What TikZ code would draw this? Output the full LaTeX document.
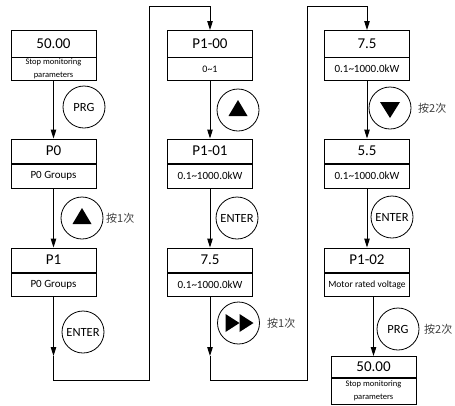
\documentclass[tikz,border=0pt]{standalone}
\usepackage{fontspec}
\setmainfont{Carlito}
\newfontfamily\cjk{Noto Sans CJK SC}
\usetikzlibrary{arrows.meta,calc}
\newcommand\mybox[7]{%
  \node[topbox, minimum height=#4, anchor=north] (#1) at (#2,#3) {#6};
  \node[subbox, minimum height=#5, anchor=north] (#1s) at (#1.south) {#7};}
\begin{document}
\begin{tikzpicture}[x=1pt,y=-1pt,
  topbox/.style={draw, line width=0.8pt, minimum width=85pt, inner sep=0pt, font=\fontsize{15}{17}\selectfont},
  subbox/.style={draw, line width=0.8pt, minimum width=85pt, inner sep=0pt, align=center, font=\fontsize{11}{13}\selectfont},
  key/.style={draw, circle, line width=0.8pt, minimum size=42pt, inner sep=0pt, font=\fontsize{12.5}{14}\selectfont},
  note/.style={anchor=west, inner sep=0pt, text=black!75, font=\cjk\fontsize{11}{13}\selectfont},
  arr/.style={line width=1pt, -{Triangle[length=9pt,width=5.5pt]}}
]
\useasboundingbox (0,0) rectangle (455,405);

% column 1
\mybox{b1}{53.5}{30}{26.5pt}{22.5pt}{50.00}{\fontsize{8.5}{10}\selectfont Stop monitoring\\\fontsize{8.5}{10}\selectfont parameters}
\mybox{b2}{53.5}{138.5}{24.5pt}{24pt}{P0}{P0 Groups}
\mybox{b3}{53.5}{247.5}{24.5pt}{23.5pt}{P1}{P0 Groups}
% column 2
\mybox{b4}{210}{30}{26.5pt}{22.5pt}{P1-00}{\fontsize{10}{12}\selectfont 0\textasciitilde1}
\mybox{b5}{210}{138.5}{24.5pt}{24pt}{P1-01}{0.1\textasciitilde1000.0kW}
\mybox{b6}{210}{247.5}{24.5pt}{23.5pt}{7.5}{0.1\textasciitilde1000.0kW}
% column 3
\mybox{b7}{367}{30}{26.5pt}{22.5pt}{7.5}{0.1\textasciitilde1000.0kW}
\mybox{b8}{367}{138.5}{24.5pt}{24pt}{5.5}{0.1\textasciitilde1000.0kW}
\mybox{b9}{367}{247.5}{24.5pt}{23.5pt}{P1-02}{\fontsize{9.5}{11}\selectfont Motor rated voltage}
\mybox{b10}{373.5}{356}{21pt}{26pt}{50.00}{\fontsize{8.5}{10}\selectfont Stop monitoring\\\fontsize{8.5}{10}\selectfont parameters}

% keys
\node[key] (c1) at (84,107) {PRG};
\node[key] (c2) at (82,218) {};
\node[key] (c3) at (83,332) {ENTER};
\node[key] (c4) at (238,110) {};
\node[key] (c5) at (237,218) {ENTER};
\node[key] (c6) at (238.5,323) {};
\node[key] (c7) at (390,108) {};
\node[key] (c8) at (392,217) {ENTER};
\node[key] (c9) at (398,329) {PRG};

\fill[shift={(c2.center)}] (-9.5,6) -- (9.5,6) -- (0,-10) -- cycle;
\fill[shift={(c4.center)}] (-9.5,6) -- (9.5,6) -- (0,-10) -- cycle;
\fill[shift={(c7.center)}] (-10,-6) -- (10,-6) -- (0,10) -- cycle;
\fill[shift={(c6.center)}] (-13,-9) -- (1,0) -- (-13,9) -- cycle;
\fill[shift={(c6.center)}] (1,-9) -- (15,0) -- (1,9) -- cycle;

% notes
\node[note] (n1) at (106,218) {按1次};
\node[note] (n2) at (267,323) {按1次};
\node[note] (n3) at (418,108) {按2次};
\node[note] (n4) at (424,329) {按2次};

% routing points
\coordinate (k1) at (53.5,356);
\coordinate (k2) at (149,380);
\coordinate (k3) at (149,6);
\coordinate (k4) at (210,356);
\coordinate (k5) at (307,380);
\coordinate (k6) at (307,6);

% connectors
\draw[arr] (b1s.south) -- (b2.north);
\draw[arr] (b2s.south) -- (b3.north);
\draw[arr] (b3s.south) -- (k1);
\draw[arr] (k1) |- (k2) -- (k3) -| (b4.north);
\draw[arr] (b4s.south) -- (b5.north);
\draw[arr] (b5s.south) -- (b6.north);
\draw[arr] (b6s.south) -- (k4);
\draw[arr] (k4) |- (k5) -- (k6) -| (b7.north);
\draw[arr] (b7s.south) -- (b8.north);
\draw[arr] (b8s.south) -- (b9.north);
\draw[arr] (b9s.south -| b10.north) -- (b10.north);
\end{tikzpicture}
\end{document}
